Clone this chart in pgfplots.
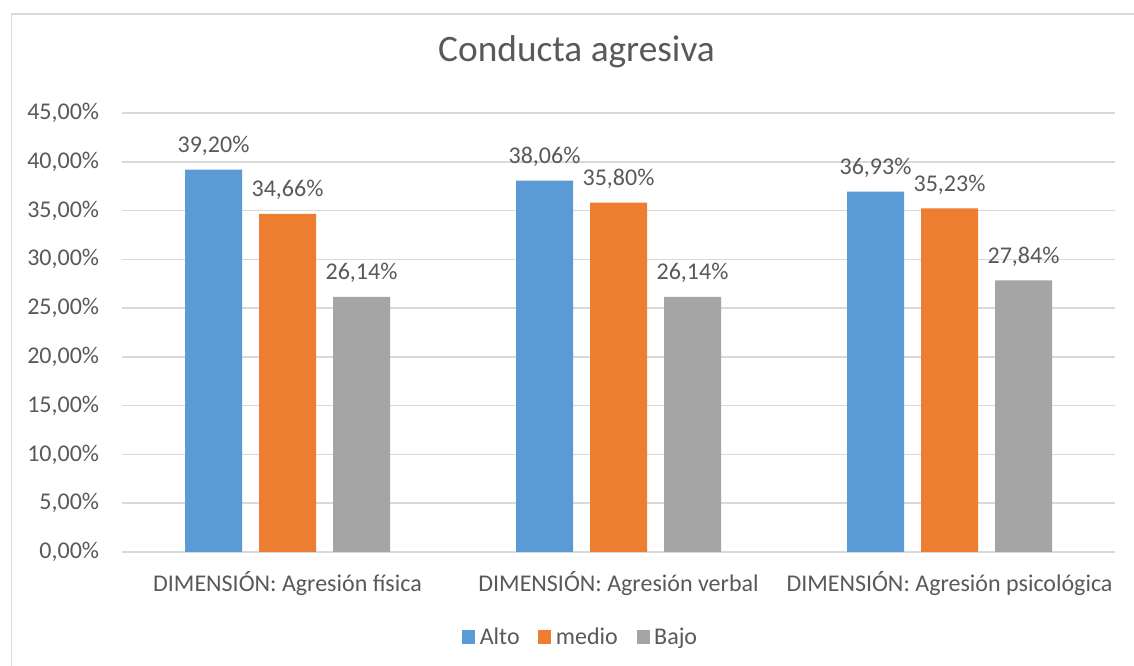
\documentclass[border=0pt]{standalone}
\usepackage{pgfplots}
\pgfplotsset{compat=1.18}
\usepackage{fontspec}
\setmainfont{Carlito}
\definecolor{txt}{HTML}{595959}
\definecolor{grd}{HTML}{D9D9D9}
\definecolor{calto}{HTML}{5B9BD5}
\definecolor{cmedio}{HTML}{ED7D31}
\definecolor{cbajo}{HTML}{A5A5A5}
\begin{document}
\begin{tikzpicture}
\useasboundingbox (0,0) rectangle (850.5pt,499.5pt);
\fill[white] (0,0) rectangle (850.5pt,499.5pt);
\draw[grd, line width=1.1pt] (8.6pt,0) -- (8.6pt,489pt) -- (850.5pt,489pt);
\begin{axis}[
  at={(91.5pt,85.5pt)}, anchor=south west,
  scale only axis, width=744.75pt, height=329.25pt,
  ybar=12.75pt, bar width=42.75pt,
  xmin=-0.5, xmax=2.5, ymin=0, ymax=45,
  xtick={0,1,2},
  xticklabels={DIMENSIÓN: Agresión física, DIMENSIÓN: Agresión verbal, DIMENSIÓN: Agresión psicológica},
  ytick={0,5,...,45},
  axis line style={draw=none},
  major tick length=0pt,
  ymajorgrids, grid style={grd, line width=1.1pt},
  /pgf/number format/assume math mode=true,
  yticklabel={\pgfmathprintnumber[fixed,fixed zerofill,precision=2,use comma]{\tick}\%},
  yticklabel style={anchor=east, inner sep=0pt, xshift=-17pt, font=\fontsize{18}{21}\selectfont, text=txt},
  xticklabel style={anchor=base, inner sep=0pt, yshift=-30pt, font=\fontsize{18}{21}\selectfont, text=txt},
  title={Conducta agresiva},
  title style={at={(rel axis cs:0.4577,1.098)}, anchor=base, inner sep=0pt, font=\fontsize{28}{33}\selectfont, text=txt},
  nodes near coords={\pgfmathprintnumber[fixed,fixed zerofill,precision=2,use comma]{\pgfplotspointmeta}\%},
  every node near coord/.append style={anchor=base, yshift=12.75pt, inner sep=0pt, font=\fontsize{18}{21}\selectfont, text=txt},
  legend columns=3,
  legend style={at={(rel axis cs:0.4622,-0.1936)}, anchor=center, draw=none, fill=none, font=\fontsize{18}{21}\selectfont, text=txt,
    /tikz/every odd column/.append style={column sep=1.5pt},
    /tikz/every even column/.append style={column sep=12pt}},
  legend image code/.code={\fill[#1] (0pt,-4.9pt) rectangle (9.75pt,4.9pt);},
  legend cell align=left,
]
\addplot[fill=calto, draw=none] coordinates {(0,39.20) (1,38.06) (2,36.93)};
\addplot[fill=cmedio, draw=none] coordinates {(0,34.66) (1,35.80) (2,35.23)};
\addplot[fill=cbajo, draw=none] coordinates {(0,26.14) (1,26.14) (2,27.84)};
\legend{Alto, medio, Bajo}
\end{axis}
\end{tikzpicture}
\end{document}
